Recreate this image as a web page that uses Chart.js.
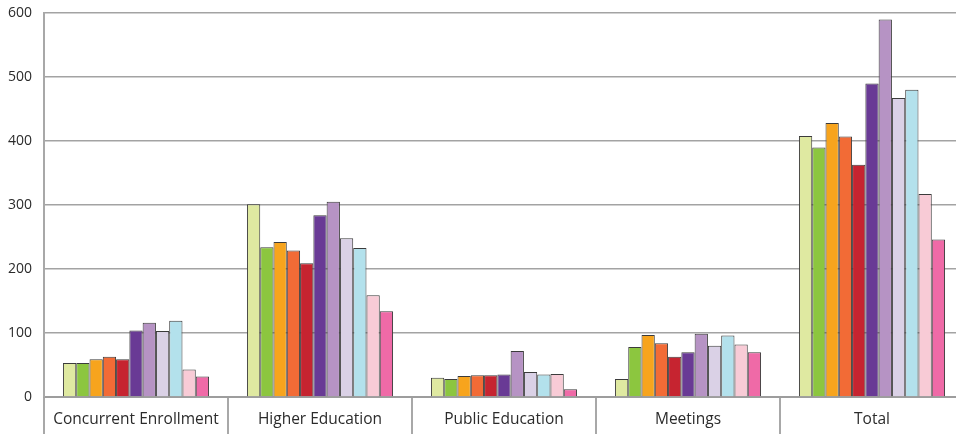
<!DOCTYPE html>
<html>
<head>
<meta charset="utf-8">
<script src="https://cdn.jsdelivr.net/npm/chart.js@4"></script>
<style>
  html, body { margin: 0; padding: 0; background: #fff; overflow: hidden; }
  #wrap { width: 964px; height: 434px; position: relative; }
</style>
</head>
<body>
<div id="wrap"><canvas id="chart"></canvas></div>
<script>
const categories = ['Concurrent Enrollment', 'Higher Education', 'Public Education', 'Meetings', 'Total'];
const yTicks = [0, 100, 200, 300, 400, 500, 600];

// one series per bar position inside each group
const s1 = [53, 301, 30, 28, 408];
const s2 = [53, 234, 28, 78, 390];
const s3 = [59, 242, 33, 97, 428];
const s4 = [63, 229, 34, 84, 407];
const s5 = [59, 209, 34, 63, 363];
const s6 = [104, 284, 35, 70, 490];
const s7 = [116, 305, 72, 99, 590];
const s8 = [103, 248, 39, 80, 467];
const s9 = [119, 233, 35, 96, 480];
const s10 = [43, 159, 36, 82, 317];
const s11 = [32, 134, 12, 70, 246];

const seriesList = [s1, s2, s3, s4, s5, s6, s7, s8, s9, s10, s11];
const colors = ['#dfe9a1', '#8cc63f', '#f7a41d', '#f26b36', '#c62430', '#693a95', '#b693c4', '#dad1e6', '#b3e1ec', '#f8cbd6', '#ef6aa7'];

new Chart(document.getElementById('chart').getContext('2d'), {
    type: 'bar',
    data: {
        labels: categories,
        datasets: seriesList.map((d, i) => ({
            data: d,
            backgroundColor: colors[i],
            borderColor: '#3b3b3b',
            borderWidth: 1,
            borderSkipped: 'bottom',
            barPercentage: 1,
            categoryPercentage: 0.794
        }))
    },
    options: {
        responsive: true,
        maintainAspectRatio: false,
        animation: false,
        layout: { padding: { top: 13, right: 0, left: 0, bottom: 0 } },
        plugins: { legend: { display: false }, tooltip: { enabled: false } },
        scales: {
            x: {
                grid: {
                    offset: true,
                    drawOnChartArea: false,
                    drawTicks: true,
                    tickLength: 37,
                    color: '#a8a8a8',
                    lineWidth: 2
                },
                border: { color: '#9d9d9d', width: 2 },
                ticks: {
                    padding: -24,
                    color: '#2b2b2b',
                    font: { family: 'Open Sans', size: 15.5 }
                },
                afterFit: s => { s.height = 37; }
            },
            y: {
                min: 0,
                max: 600,
                afterBuildTicks: s => { s.ticks = yTicks.map(v => ({ value: v })); },
                grid: { color: '#a3a3a3', lineWidth: 1.5, drawTicks: false },
                border: { color: '#a8a8a8', width: 2 },
                ticks: {
                    padding: 12,
                    color: '#2b2b2b',
                    font: { family: 'Open Sans', size: 14 }
                },
                afterFit: s => { s.width = 44; s.paddingTop = 0; s.paddingBottom = 0; }
            }
        }
    }
});
</script>
</body>
</html>
